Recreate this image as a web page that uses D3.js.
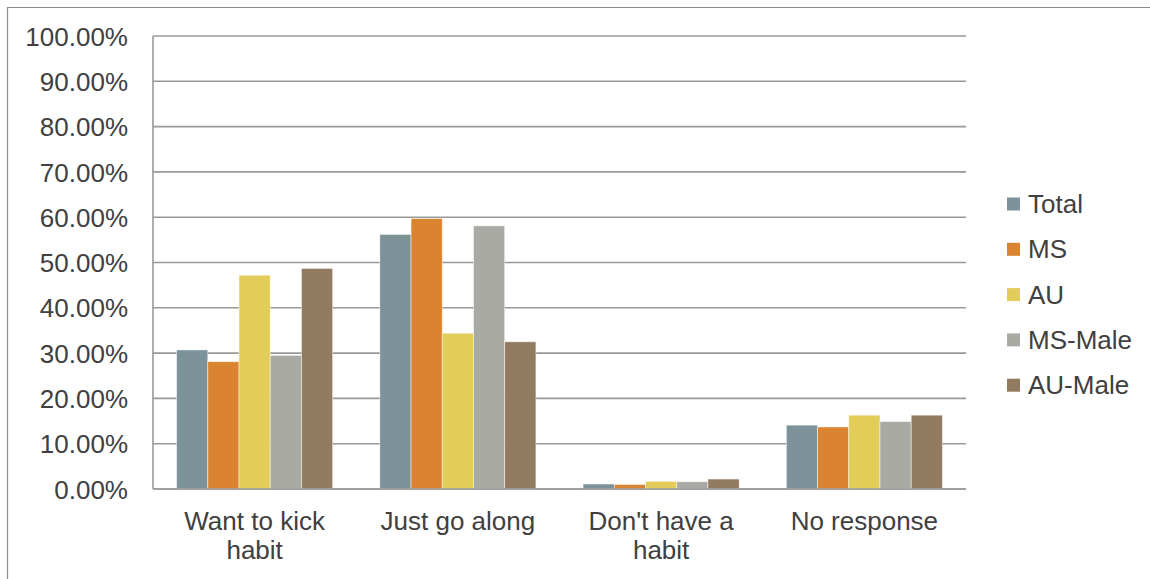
<!DOCTYPE html>
<html><head><meta charset="utf-8">
<script src="https://cdn.jsdelivr.net/npm/d3@7"></script>
<style>body{margin:0;background:#fff}svg{display:block;font-family:"Liberation Sans",Arial,sans-serif}</style>
</head><body><svg id="c" width="1150" height="579"></svg>
<script>
const categories = ["Want to kick habit", "Just go along", "Don't have a habit", "No response"];
const series = ["Total", "MS", "AU", "MS-Male", "AU-Male"];
const colors = ["#7B9399", "#DA8431", "#E2CC5A", "#AAAAA5", "#927B60"];
const totalVals  = [30.7, 56.2, 1.1, 14.1];
const msVals     = [28.1, 59.7, 1.0, 13.7];
const auVals     = [47.2, 34.4, 1.7, 16.3];
const msMaleVals = [29.5, 58.1, 1.6, 14.9];
const auMaleVals = [48.7, 32.5, 2.2, 16.3];
const yTicks = [0, 10, 20, 30, 40, 50, 60, 70, 80, 90, 100];

(function () {
const seriesVals = [totalVals, msVals, auVals, msMaleVals, auMaleVals];
const svg = d3.select("#c");
const pLeft = 153, pRight = 966, pTop = 36, pBottom = 489;
const fs = 26, txt = "#404040", grid = "#999999";

// outer frame
svg.append("path").attr("d", "M7.5,579V7.5H1150").attr("fill", "none").attr("stroke", "#8c8c8c").attr("stroke-width", 1.2);

const x = d3.scaleBand().domain(categories).range([pLeft, pRight]).paddingInner(0.232).paddingOuter(0.116);
const xs = d3.scaleBand().domain(series).range([0, x.bandwidth()]);
const y = d3.scaleLinear().domain([0, 100]).range([pBottom, pTop]);

// gridlines
svg.append("g").selectAll("line").data(yTicks).join("line")
  .attr("x1", pLeft).attr("x2", pRight).attr("y1", d => y(d)).attr("y2", d => y(d))
  .attr("stroke", grid).attr("stroke-width", 1.6);

// y labels
const yAxis = d3.axisLeft(y).tickValues(yTicks).tickSize(0).tickPadding(0).tickFormat(d => d.toFixed(2) + "%");
const ya = svg.append("g").attr("transform", `translate(128,0)`).call(yAxis);
ya.select(".domain").remove();
ya.selectAll("text").attr("font-size", fs).attr("fill", txt).attr("font-family", "Liberation Sans, Arial, sans-serif").attr("dy", "0.35em");

// bars
const g = svg.append("g");
categories.forEach((c, ci) => {
  series.forEach((s, si) => {
    const v = seriesVals[si][ci];
    g.append("rect")
      .attr("x", x(c) + xs(s)).attr("width", xs.bandwidth())
      .attr("y", y(v)).attr("height", y(0) - y(v))
      .attr("fill", colors[si]).attr("stroke", "#ffffff").attr("stroke-opacity", 0.6).attr("stroke-width", 0.8);
  });
});

// axes lines
svg.append("line").attr("x1", pLeft).attr("x2", pLeft).attr("y1", pTop).attr("y2", pBottom).attr("stroke", grid).attr("stroke-width", 1.6);
svg.append("line").attr("x1", pLeft).attr("x2", pRight).attr("y1", pBottom).attr("y2", pBottom).attr("stroke", grid).attr("stroke-width", 1.6);

// category labels with wrapping
categories.forEach(c => {
  const cx = x(c) + x.bandwidth() / 2;
  const t = svg.append("text").attr("x", cx).attr("y", 530)
    .attr("text-anchor", "middle").attr("font-size", fs).attr("fill", txt);
  const words = c.split(" ");
  let line = [];
  let ts = t.append("tspan").attr("x", cx).attr("dy", 0);
  words.forEach(w => {
    line.push(w);
    ts.text(line.join(" "));
    if (ts.node().getComputedTextLength() > 175 && line.length > 1) {
      line.pop();
      ts.text(line.join(" "));
      line = [w];
      ts = t.append("tspan").attr("x", cx).attr("dy", 29).text(w);
    }
  });
});

// legend
const lg = svg.append("g");
series.forEach((s, i) => {
  const cy = 204 + i * 45.3;
  lg.append("rect").attr("x", 1007).attr("y", cy - 6.5).attr("width", 13).attr("height", 13).attr("fill", colors[i]);
  lg.append("text").attr("x", 1028).attr("y", cy).attr("dy", "0.35em").attr("font-size", fs).attr("fill", txt).text(s);
});
})();
</script></body></html>
